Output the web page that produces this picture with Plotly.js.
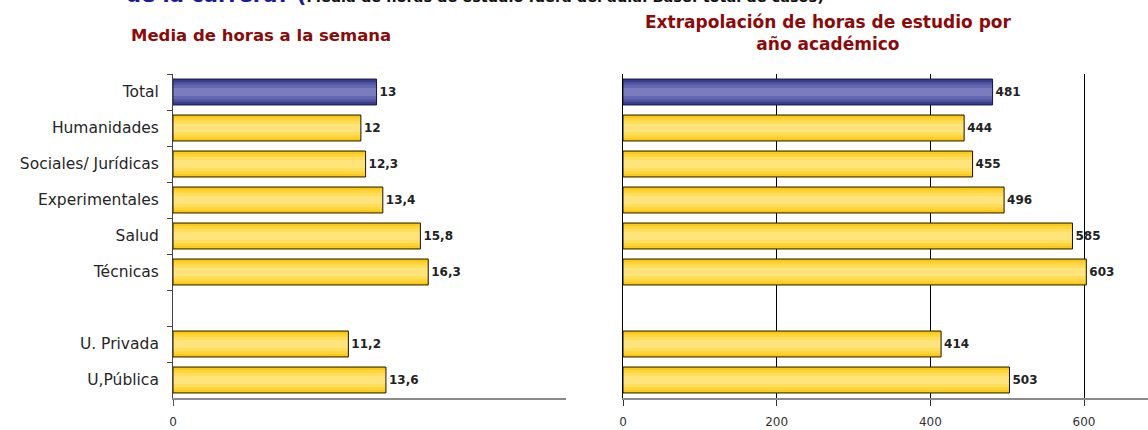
<!DOCTYPE html>
<html>
<head>
<meta charset="utf-8">
<script src="https://cdn.plot.ly/plotly-3.0.1.min.js"></script>
<style>html,body{margin:0;padding:0;background:#fff;}#chart{width:1148px;height:430px;}</style>
</head>
<body>
<div id="chart"></div>
<script>
// ---- data ----
const categories = ['Total', 'Humanidades', 'Sociales/ Jurídicas', 'Experimentales', 'Salud', 'Técnicas', ' ', 'U. Privada', 'U,Pública'];
const weeklyHours = [13, 12, 12.3, 13.4, 15.8, 16.3, null, 11.2, 13.6];
const yearlyHours = [481, 444, 455, 496, 585, 603, null, 414, 503];
const yTicksRight = [0, 200, 400, 600];
const titleLeft = 'Media de horas a la semana';
const titleRight = 'Extrapolación de horas de estudio por<br>año académico';
const topQuestion = 'de la carrera? (';
const topNote = 'Media de horas de estudio fuera del aula. Base: total de casos)';

// ---- styling ----
const W = 1148, H = 430;
const px = x => x / W, py = y => 1 - y / H;
const isTotal = categories.map(c => c === 'Total');
const shade = (blue, yellow) => isTotal.map(t => t ? blue : yellow);
const layers = [
  {w: 0.72, c: shade('#3a3c8a', '#ffca10')},
  {w: 0.56, c: shade('#5053a0', '#ffd53c')},
  {w: 0.40, c: shade('#6567b0', '#ffdd5f')},
  {w: 0.22, c: shade('#7a7cbd', '#ffe47c')}
];
const fmt = v => v === null ? '' : String(v).replace('.', ',');

function barTraces(vals, xa, ya) {
  const t = layers.map(L => ({
    type: 'bar', orientation: 'h', y: categories, x: vals,
    xaxis: xa, yaxis: ya, width: L.w,
    marker: {color: L.c, line: {width: 0}},
    hoverinfo: 'skip', showlegend: false
  }));
  t.push({
    type: 'bar', orientation: 'h', y: categories, x: vals,
    xaxis: xa, yaxis: ya, width: 0.72,
    marker: {color: 'rgba(0,0,0,0)', line: {width: 1, color: shade('#15164a', '#1a1400')}},
    text: vals.map(fmt), textposition: 'outside', cliponaxis: false,
    textfont: {family: 'DejaVu Sans, sans-serif', size: 12, weight: 'bold', color: '#222'},
    showlegend: false
  });
  return t;
}

const data = [...barTraces(weeklyHours, 'x', 'y'), ...barTraces(yearlyHours, 'x2', 'y2')];

const yDom = [py(398), py(74)];
const layout = {
  width: W, height: H,
  margin: {l: 0, r: 0, t: 0, b: 0},
  paper_bgcolor: '#fff', plot_bgcolor: 'rgba(0,0,0,0)',
  barmode: 'overlay',
  font: {family: 'DejaVu Sans, sans-serif', color: '#222'},
  xaxis: {
    domain: [px(173), px(566)], range: [0, 25.1], fixedrange: true,
    showgrid: false, zeroline: false,
    showline: true, linecolor: '#8a8a8a', linewidth: 2,
    tickvals: [0], ticks: 'outside', ticklen: 6, tickcolor: '#555', tickwidth: 1,
    ticklabelstandoff: 6,
    tickfont: {size: 12, color: '#333'}
  },
  yaxis: {
    domain: yDom, type: 'category', autorange: 'reversed', fixedrange: true,
    showgrid: false, zeroline: false,
    showline: true, linecolor: '#444', linewidth: 1,
    ticks: 'outside', tickson: 'boundaries', ticklen: 5, tickcolor: '#444',
    ticklabelstandoff: 10,
    tickfont: {size: 15.5, color: '#262626'}
  },
  xaxis2: {
    domain: [px(623), 1], range: [0, 683.3], fixedrange: true,
    showgrid: true, gridcolor: '#000', gridwidth: 1, zeroline: false,
    showline: true, linecolor: '#8a8a8a', linewidth: 2,
    tickvals: yTicksRight, ticks: 'outside', ticklen: 6, tickcolor: '#333', tickwidth: 1,
    ticklabelstandoff: 6,
    tickfont: {size: 12, color: '#333'}
  },
  yaxis2: {
    domain: yDom, type: 'category', autorange: 'reversed', fixedrange: true,
    anchor: 'x2', showgrid: false, zeroline: false,
    showline: true, linecolor: '#000', linewidth: 1,
    showticklabels: false, ticks: ''
  },
  annotations: [
    {xref: 'paper', yref: 'paper', x: px(261), y: py(36), xanchor: 'center', yanchor: 'middle',
     text: titleLeft, showarrow: false,
     font: {family: 'DejaVu Sans, sans-serif', size: 16.5, color: '#8b0a0a', weight: 'bold'}},
    {xref: 'paper', yref: 'paper', x: px(828), y: py(33), xanchor: 'center', yanchor: 'middle',
     text: titleRight, showarrow: false,
     font: {family: 'DejaVu Sans, sans-serif', size: 17, color: '#8b0a0a', weight: 'bold'}},
    {xref: 'paper', yref: 'paper', x: px(124), y: py(9), xanchor: 'left', yanchor: 'bottom',
     text: '<span style="color:#1a1a9a;font-size:21px"><b>' + topQuestion + '</b></span><b>' + topNote + '</b>',
     showarrow: false, font: {family: 'DejaVu Sans, sans-serif', size: 14.5, color: '#111'}}
  ]
};

Plotly.newPlot('chart', data, layout, {staticPlot: true, displayModeBar: false});
</script>
</body>
</html>
